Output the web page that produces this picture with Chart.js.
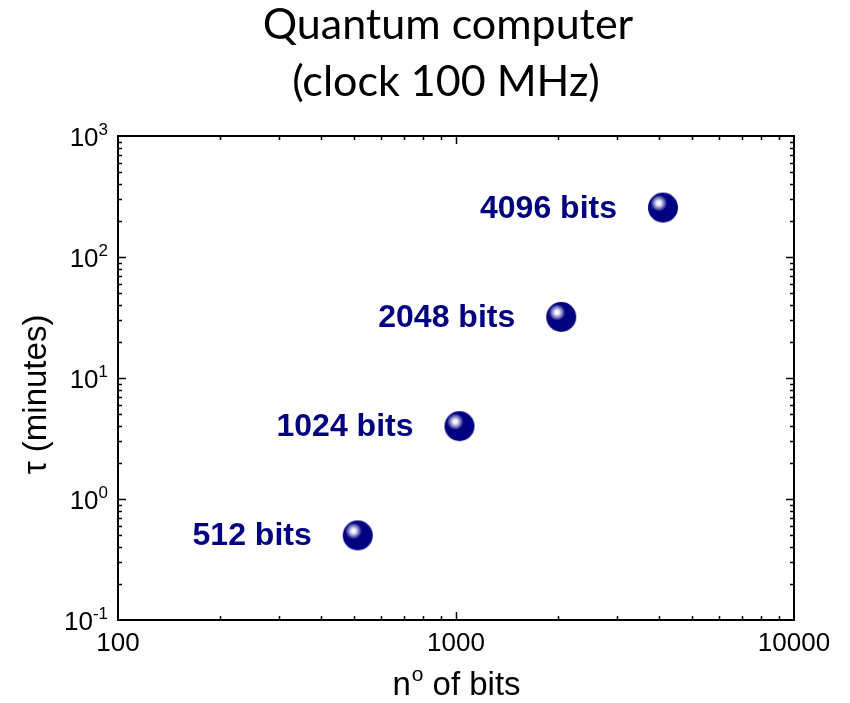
<!DOCTYPE html>
<html>
<head>
<meta charset="utf-8">
<script src="https://cdn.jsdelivr.net/npm/chart.js@4"></script>
<style>
html,body{margin:0;padding:0;background:#fff;}
#wrap{width:850px;height:703px;position:relative;}
</style>
</head>
<body>
<div id="wrap"><canvas id="c"></canvas></div>
<script>
const bits = [512, 1024, 2048, 4096];
const minutes = [0.5, 4, 32, 256];
const pointLabels = ['512 bits', '1024 bits', '2048 bits', '4096 bits'];
const xTickValues = [100, 1000, 10000];
const xTickLabels = ['100', '1000', '10000'];
const yTickValues = [0.1, 1, 10, 100, 1000];
const yTickExponents = ['-1', '0', '1', '2', '3'];
const titleLines = ['Quantum computer', '(clock 100 MHz)'];

const NAVY = '#000080';
const SANS = '"Liberation Sans", Arial, sans-serif';

function makeSphere(r) {
  const c = document.createElement('canvas');
  const s = Math.ceil(r * 2 + 2);
  c.width = s; c.height = s;
  const g = c.getContext('2d');
  const cx = s / 2, cy = s / 2;
  const hx = cx - r * 0.28, hy = cy - r * 0.3;
  const grad = g.createRadialGradient(hx, hy, 0, hx, hy, r * 0.55);
  grad.addColorStop(0, '#ffffff');
  grad.addColorStop(0.25, '#f4f4ff');
  grad.addColorStop(0.45, '#b4b4e2');
  grad.addColorStop(0.75, '#5858ac');
  grad.addColorStop(1, NAVY);
  g.beginPath();
  g.arc(cx, cy, r, 0, Math.PI * 2);
  g.fillStyle = grad;
  g.fill();
  return c;
}
const sphere = makeSphere(15);

const decor = {
  id: 'decor',
  afterDraw(chart) {
    const ctx = chart.ctx;
    const a = chart.chartArea;
    const xs = chart.scales.x, ys = chart.scales.y;
    ctx.save();
    // frame
    ctx.strokeStyle = '#000';
    ctx.lineWidth = 2;
    ctx.strokeRect(a.left, a.top, a.right - a.left, a.bottom - a.top);
    // inward ticks on all four sides
    ctx.lineWidth = 1.5;
    ctx.beginPath();
    for (let d = 100; d < 10000; d *= 10) {
      for (let m = 1; m <= 9; m++) {
        const v = d * m;
        if (v <= 100) continue;
        const px = Math.round(xs.getPixelForValue(v)) + 0.5;
        const len = m === 1 ? 8 : 4;
        ctx.moveTo(px, a.bottom); ctx.lineTo(px, a.bottom - len);
        ctx.moveTo(px, a.top); ctx.lineTo(px, a.top + len);
      }
    }
    for (let d = 0.1; d < 999; d *= 10) {
      for (let m = 1; m <= 9; m++) {
        const v = d * m;
        if (m === 1 && d < 0.5) continue;
        const py = Math.round(ys.getPixelForValue(v)) + 0.5;
        const len = m === 1 ? 8 : 4;
        ctx.moveTo(a.left, py); ctx.lineTo(a.left + len, py);
        ctx.moveTo(a.right, py); ctx.lineTo(a.right - len, py);
      }
    }
    ctx.stroke();

    // x tick labels
    ctx.fillStyle = '#000';
    ctx.font = '26px ' + SANS;
    ctx.textAlign = 'center';
    ctx.textBaseline = 'alphabetic';
    xTickValues.forEach((v, i) => {
      ctx.fillText(xTickLabels[i], xs.getPixelForValue(v), a.bottom + 31);
    });
    // y tick labels with superscripts
    yTickValues.forEach((v, i) => {
      const py = ys.getPixelForValue(v);
      ctx.font = '17px ' + SANS;
      const ew = ctx.measureText(yTickExponents[i]).width;
      ctx.textAlign = 'right';
      ctx.fillText(yTickExponents[i], a.left - 10, py - 1);
      ctx.font = '26px ' + SANS;
      ctx.fillText('10', a.left - 10 - ew, py + 10);
    });

    // x axis title: n^o of bits
    const t1 = 'n', t2 = 'o', t3 = ' of bits';
    ctx.font = '33px ' + SANS;
    const w1 = ctx.measureText(t1).width, w3 = ctx.measureText(t3).width;
    ctx.font = '21px ' + SANS;
    const w2 = ctx.measureText(t2).width;
    const total = w1 + w2 + w3;
    const cx = (a.left + a.right) / 2;
    const sx = cx - total / 2;
    const by = 695;
    ctx.textAlign = 'left';
    ctx.font = '33px ' + SANS;
    ctx.fillText(t1, sx, by);
    ctx.font = '21px ' + SANS;
    ctx.fillText(t2, sx + w1 + 1, by - 14);
    ctx.font = '33px ' + SANS;
    ctx.fillText(t3, sx + w1 + w2 + 1, by);

    // y axis title
    ctx.save();
    ctx.translate(46, 394.5);
    ctx.rotate(-Math.PI / 2);
    ctx.textAlign = 'center';
    ctx.font = '33px ' + SANS;
    ctx.fillText('\u03C4 (minutes)', 0, 0);
    ctx.restore();

    // title
    ctx.textAlign = 'center';
    ctx.font = '43px Lato, "Open Sans", sans-serif';
    ctx.fillText(titleLines[0], 448, 39);
    ctx.fillText(titleLines[1], 446, 96);

    // point labels
    ctx.fillStyle = NAVY;
    ctx.font = 'bold 32px ' + SANS;
    ctx.textAlign = 'right';
    bits.forEach((b, i) => {
      const px = xs.getPixelForValue(b), py = ys.getPixelForValue(minutes[i]);
      ctx.fillText(pointLabels[i], px - 46, py + 10);
    });
    ctx.restore();
  }
};

new Chart(document.getElementById('c'), {
  type: 'scatter',
  data: {
    datasets: [{
      data: bits.map((b, i) => ({x: b, y: minutes[i]})),
      pointStyle: sphere,
      pointRadius: 15,
      pointHoverRadius: 15
    }]
  },
  options: {
    responsive: true,
    maintainAspectRatio: false,
    animation: false,
    events: [],
    layout: {padding: {top: 136, right: 56, left: 0, bottom: 0}},
    plugins: {legend: {display: false}, title: {display: false}, tooltip: {enabled: false}},
    scales: {
      x: {
        type: 'logarithmic', min: 100, max: 10000,
        ticks: {display: false}, grid: {display: false}, border: {display: false},
        afterFit(s) { s.height = 83; }
      },
      y: {
        type: 'logarithmic', min: 0.1, max: 1000,
        ticks: {display: false}, grid: {display: false}, border: {display: false},
        afterFit(s) { s.width = 118; }
      }
    }
  },
  plugins: [decor]
});
</script>
</body>
</html>
